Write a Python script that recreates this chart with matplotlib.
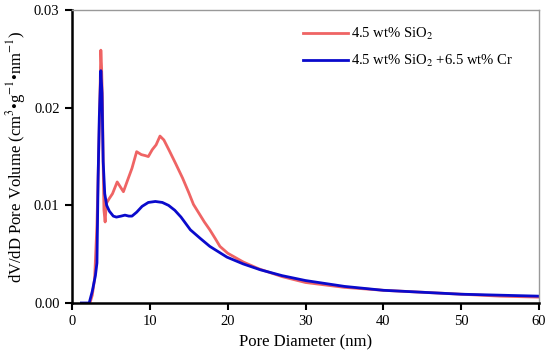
import matplotlib
matplotlib.use("Agg")
import matplotlib.pyplot as plt
from matplotlib.ticker import FormatStrFormatter

plt.rcParams["font.family"] = ["Liberation Serif", "DejaVu Serif"]
plt.rcParams["mathtext.fontset"] = "stix"

# pore diameter (nm) and dV/dD for 4.5 wt% SiO2
d_sio2 = [2.3, 2.6, 2.9, 3.2, 3.5, 3.7, 3.8, 3.9, 4.0, 4.1, 4.25, 4.4, 4.7,
          5.2, 5.8, 6.2, 6.6, 7.1, 7.7, 8.3, 8.9, 9.4, 9.8, 10.3, 10.8, 11.3,
          11.8, 12.5, 13.3, 14.2, 15.0, 15.6, 16.3, 17.0, 17.7, 18.4, 19.0,
          20.0, 22.0, 24.0, 27.0, 30.0, 35.0, 40.0, 45.0, 50.0, 55.0, 60.0]
v_sio2 = [0.0, 0.0008, 0.0025, 0.008, 0.018, 0.0259, 0.024, 0.021, 0.014, 0.0095,
          0.0083, 0.0102, 0.0106, 0.0112, 0.0124, 0.0119, 0.0114, 0.0125, 0.0138,
          0.0155, 0.0152, 0.0151, 0.0150, 0.0157, 0.0162, 0.0171, 0.0167, 0.0156,
          0.0143, 0.0128, 0.0113, 0.0101, 0.0092, 0.0083, 0.0075, 0.0066, 0.0058,
          0.0051, 0.0042, 0.0035, 0.0027, 0.0021, 0.0016, 0.0013, 0.0011, 0.0009,
          0.0007, 0.0006]

# 4.5 wt% SiO2 + 6.5 wt% Cr
d_cr = [1.2, 2.2, 2.6, 3.0, 3.2, 3.35, 3.5, 3.7, 3.85, 4.0, 4.2, 4.45, 4.8,
        5.3, 5.7, 6.3, 6.8, 7.3, 7.7, 8.3, 9.0, 9.8, 10.7, 11.6, 12.4, 13.2,
        14.0, 15.2, 16.5, 17.7, 19.9, 22.0, 24.2, 27.0, 30.0, 35.0, 40.0,
        45.0, 50.0, 55.0, 60.0]
v_cr = [0.0, 0.0, 0.0012, 0.0028, 0.0041, 0.0129, 0.019, 0.0238, 0.0215, 0.0145,
        0.0112, 0.0100, 0.0094, 0.0089, 0.0088, 0.0089, 0.0090, 0.0089, 0.0089,
        0.0093, 0.0099, 0.0103, 0.0104, 0.0103, 0.0100, 0.0095, 0.0088, 0.0075,
        0.0066, 0.0058, 0.0047, 0.0040, 0.0034, 0.0028, 0.0023, 0.0017, 0.0013,
        0.0011, 0.0009, 0.0008, 0.0007]

fig = plt.figure(figsize=(5.5, 3.62), dpi=100)
ax = fig.add_axes([0.131, 0.163, 0.849, 0.809])

ax.plot(d_sio2, v_sio2, color="#ef6464", lw=2.0, label="4.5 wt% SiO$_2$")
ax.plot(d_cr, v_cr, color="#0a0acc", lw=2.0, label="4.5 wt% SiO$_2$ +6.5 wt% Cr")

ax.set_xlim(0, 60)
ax.set_ylim(0, 0.03)
ax.set_xticks(range(0, 61, 10))
ax.set_yticks([0.0, 0.01, 0.02, 0.03])
ax.yaxis.set_major_formatter(FormatStrFormatter("%.2f"))
ax.tick_params(direction="out", length=5, width=1.5, labelsize=10.5, pad=4)

for side in ("left", "bottom"):
    ax.spines[side].set_linewidth(1.8)
for side in ("top", "right"):
    ax.spines[side].set_color("#999999")
    ax.spines[side].set_linewidth(1.0)

ax.set_xlabel("Pore Diameter (nm)", fontsize=12)
ax.set_ylabel("dV/dD Pore Volume (cm$^3$\u2022g$^{-1}$\u2022nm$^{-1}$)", fontsize=12)

ax.legend(loc="upper right", frameon=False, fontsize=10.5, handlelength=3.1,
          handletextpad=0.2, labelspacing=0.75, bbox_to_anchor=(0.973, 0.99))

fig.savefig("out.png", dpi=100)
